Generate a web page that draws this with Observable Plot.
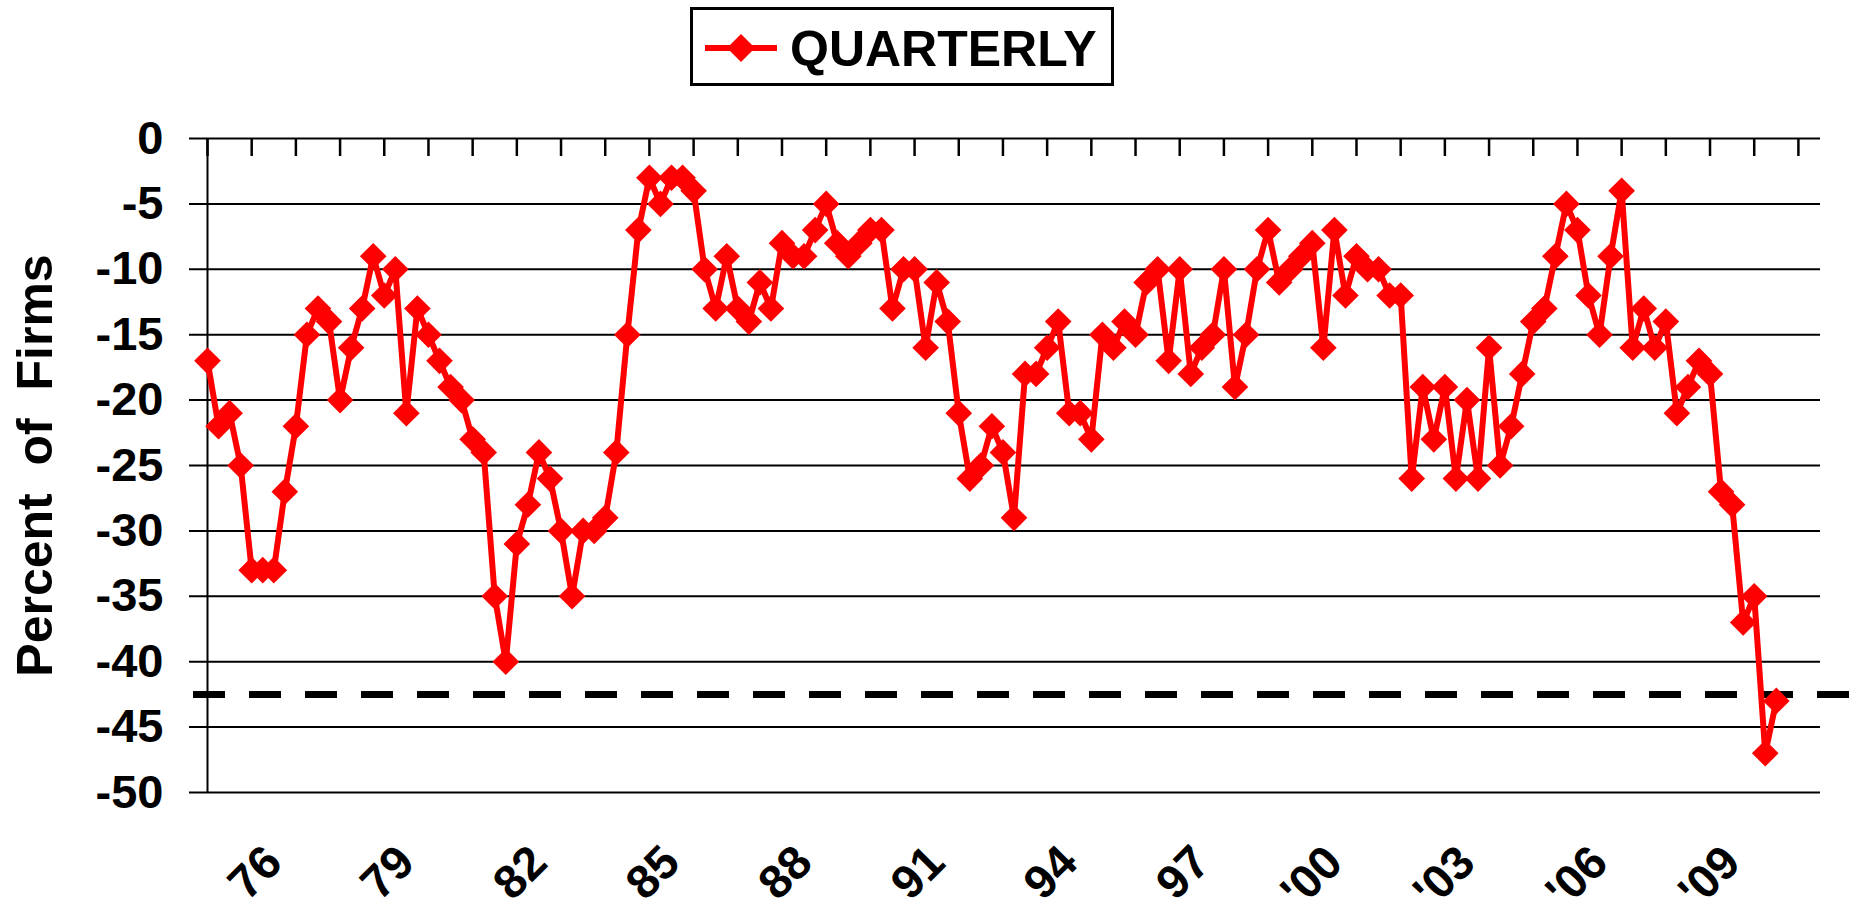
<!DOCTYPE html>
<html>
<head>
<meta charset="utf-8">
<script src="https://cdn.jsdelivr.net/npm/d3@7"></script>
<script src="https://cdn.jsdelivr.net/npm/@observablehq/plot@0.6"></script>
<style>
  html, body { margin: 0; padding: 0; background: #fff; }
  body { width: 1853px; height: 916px; overflow: hidden; font-family: "Liberation Sans", Arial, sans-serif; }
  #legend { position: relative; width: 1853px; height: 100px; }
  #legend .box { position: absolute; left: 690px; top: 7px; width: 424px; height: 79px; box-sizing: border-box; border: 3px solid #000; background: #fff; }
  #legend svg { position: absolute; left: 705px; top: 28px; }
  #legend .name { position: absolute; left: 790px; top: 24px; font-size: 50px; line-height: 50px; font-weight: bold; color: #000; white-space: nowrap; }
  #chart svg { display: block; }
</style>
</head>
<body>
<div id="legend"></div>
<div id="chart"></div>
<script>
// ---- data -------------------------------------------------------------
const startYear = 1974;          // first category: 1974 Q3
const startQuarter = 3;
const seriesName = "QUARTERLY";
const yTitle = "Percent\u00A0 of\u00A0 Firms";

// quarterly values, percent of firms
const values = [
  -17, -22, -21, -25, -33, -33, -33, -27, -22, -15,
  -13, -14, -20, -16, -13,  -9, -12, -10, -21, -13,
  -15, -17, -19, -20, -23, -24, -35, -40, -31, -28,
  -24, -26, -30, -35, -30, -30, -29, -24, -15,  -7,
   -3,  -5,  -3,  -3,  -4, -10, -13,  -9, -13, -14,
  -11, -13,  -8,  -9,  -9,  -7,  -5,  -8,  -9,  -8,
   -7,  -7, -13, -10, -10, -16, -11, -14, -21, -26,
  -25, -22, -24, -29, -18, -18, -16, -14, -21, -21,
  -23, -15, -16, -14, -15, -11, -10, -17, -10, -18,
  -16, -15, -10, -19, -15, -10,  -7, -11, -10,  -9,
   -8, -16,  -7, -12,  -9, -10, -10, -12, -12, -26,
  -19, -23, -19, -26, -20, -26, -16, -25, -22, -18,
  -14, -13,  -9,  -5,  -7, -12, -15,  -9,  -4, -16,
  -13, -16, -14, -21, -19, -17, -18, -27, -28, -37,
  -35, -47, -43
];

const axisCategories = 147;     // categories on the axis (incl. empty ones at the end)
const quartersPerTick = 4;
const yTicks = [0, -5, -10, -15, -20, -25, -30, -35, -40, -45, -50];
const xTickYears  = [1976, 1979, 1982, 1985, 1988, 1991, 1994, 1997, 2000, 2003, 2006, 2009];
const xTickLabels = ["76", "79", "82", "85", "88", "91", "94", "97", "'00", "'03", "'06", "'09"];
const refLevel = -42.5;

// ---- derived ------------------------------------------------------------
const data = values.map((v, i) => ({i, v}));
const labelIdx = xTickYears.map(y => (y - startYear) * 4 + (1 - startQuarter));
const tickIdx = d3.range(0, axisCategories, quartersPerTick);

// ---- legend -------------------------------------------------------------
const legend = document.getElementById("legend");
legend.innerHTML = `
  <div class="box"></div>
  <svg width="72" height="40" viewBox="0 0 72 40">
    <line x1="0" y1="20" x2="72" y2="20" stroke="#ff0000" stroke-width="6"/>
    <path d="M36,6 L50,20 L36,34 L22,20 Z" fill="#ff0000"/>
  </svg>
  <div class="name">${seriesName}</div>`;

// ---- chart --------------------------------------------------------------
const W = 1853, H = 816;
const mT = 38, mB = 124, mL = 207, mR = 33;
const frameH = H - mT - mB;

const chart = Plot.plot({
  width: W,
  height: H,
  marginTop: mT,
  marginBottom: mB,
  marginLeft: mL,
  marginRight: mR,
  style: {fontFamily: "'Liberation Sans', Arial, sans-serif", background: "#fff", color: "#000", overflow: "visible"},
  x: {type: "linear", domain: [0, axisCategories - 1], axis: null},
  y: {domain: [-50, 0], axis: null},
  marks: [
    Plot.ruleY(yTicks, {stroke: "#000", strokeWidth: 2, insetLeft: -18}),
    Plot.ruleX([0], {stroke: "#000", strokeWidth: 2}),
    Plot.tickX(tickIdx, {stroke: "#000", strokeWidth: 2.5, insetBottom: frameH - 18}),
    Plot.ruleY([refLevel], {stroke: "#000", strokeWidth: 7, strokeDasharray: "32,24", insetLeft: -14, insetRight: -mR}),
    Plot.line(data, {x: "i", y: "v", stroke: "#ff0000", strokeWidth: 6, strokeLinejoin: "round"}),
    Plot.dot(data, {x: "i", y: "v", symbol: "diamond2", r: 12, fill: "#ff0000"}),
    Plot.axisY({ticks: yTicks, tickFormat: d => String(d), tickSize: 0, tickPadding: 44, fontSize: 47, fontWeight: "bold", label: null}),
    Plot.axisX({
      ticks: labelIdx,
      tickFormat: d => xTickLabels[labelIdx.indexOf(d)],
      tickSize: 0, tickRotate: -45, tickPadding: 62,
      fontSize: 47, fontWeight: "bold", label: null
    }),
    Plot.text([yTitle], {text: d => d, frameAnchor: "left", textAnchor: "middle", dx: -172, rotate: -90, fontSize: 50, fontWeight: "bold"})
  ]
});
document.getElementById("chart").appendChild(chart);
</script>
</body>
</html>
